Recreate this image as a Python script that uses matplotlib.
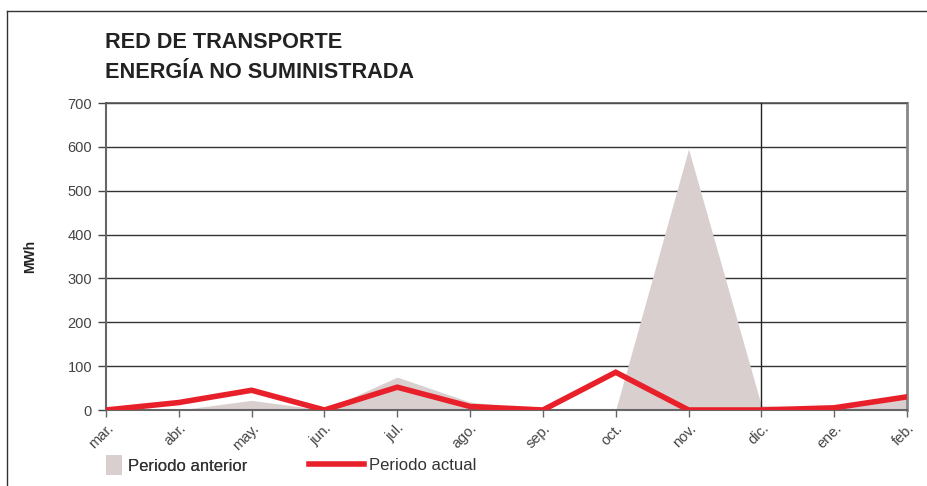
import matplotlib
matplotlib.use("Agg")
import matplotlib.pyplot as plt
from matplotlib.lines import Line2D
from matplotlib.patches import Patch

plt.rcParams['font.family'] = ['Liberation Sans Narrow', 'Liberation Sans', 'DejaVu Sans']

# data
months = ["mar.", "abr.", "may.", "jun.", "jul.", "ago.", "sep.", "oct.", "nov.", "dic.", "ene.", "feb."]
anterior = [0, 0, 22, 0, 75, 18, 0, 0, 595, 10, 5, 25]
actual = [0, 17, 45, 0, 52, 8, 0, 86, 0, 0, 5, 30]
yticks = [0, 100, 200, 300, 400, 500, 600, 700]

W, H = 927, 486
fig = plt.figure(figsize=(W / 100, H / 100), dpi=100)
ax = fig.add_axes([106 / W, 1 - 410 / H, (907 - 106) / W, (410 - 103) / H])

x = list(range(len(months)))
ax.fill_between(x, anterior, 0, color="#d9cfcf", lw=0, zorder=2)
ax.plot(x, actual, color="#e8202a", lw=4, zorder=4, solid_joinstyle="miter")

# year separator at dic.
ax.axvline(months.index("dic."), color="#222222", lw=1, zorder=3)

ax.set_xlim(0, len(months) - 1)
ax.set_ylim(0, 700)
ax.set_yticks(yticks)
ax.set_xticks(x)
ax.set_xticklabels(months, rotation=45, ha="right", va="top", rotation_mode="anchor",
                   fontsize=10.5, color="#444444")
ax.tick_params(axis="x", length=5, width=1, color="#666666", pad=3)
ax.tick_params(axis="y", length=6, width=1, color="#444444", labelsize=10.5, labelcolor="#444444", pad=4)
ax.grid(axis="y", color="#333333", lw=1, zorder=1)
ax.set_axisbelow(True)

ax.spines["left"].set_color("#666666")
ax.spines["left"].set_linewidth(1.5)
ax.spines["bottom"].set_color("#666666")
ax.spines["bottom"].set_linewidth(1.5)
ax.spines["right"].set_color("#888888")
ax.spines["right"].set_linewidth(2)
ax.spines["top"].set_color("#555555")
ax.spines["top"].set_linewidth(1.2)

ax.set_ylabel("MWh", fontsize=10, fontweight="bold", color="#222222")
ax.yaxis.set_label_coords((37 - 106) / (907 - 106), 0.5)

fig.text(105 / W, 1 - 42 / H, "RED DE TRANSPORTE", fontsize=15.6, fontweight="bold",
         color="#222222", va="center", ha="left")
fig.text(105 / W, 1 - 72 / H, "ENERGÍA NO SUMINISTRADA", fontsize=15.6, fontweight="bold",
         color="#222222", va="center", ha="left")

leg1 = fig.legend(handles=[Patch(facecolor="#d9cfcf", edgecolor="none", label="Periodo anterior")],
                  loc="center left", bbox_to_anchor=(91 / W, 1 - 465 / H), frameon=False,
                  fontsize=12, handlelength=0.95, handleheight=1.4, handletextpad=0.4,
                  labelcolor="#333333")
fig.legend(handles=[Line2D([0], [0], color="#e8202a", lw=4, label="Periodo actual")],
           loc="center left", bbox_to_anchor=(294 / W, 1 - 465 / H), frameon=False,
           fontsize=12, handlelength=3.3, handletextpad=0.3, labelcolor="#333333")
fig.add_artist(leg1)

# outer frame
fig.add_artist(Line2D([7 / W, 7 / W], [0, 1 - 11 / H], color="#333333", lw=1))
fig.add_artist(Line2D([7 / W, 1], [1 - 11 / H, 1 - 11 / H], color="#333333", lw=1))

fig.savefig("out.png", dpi=100)
